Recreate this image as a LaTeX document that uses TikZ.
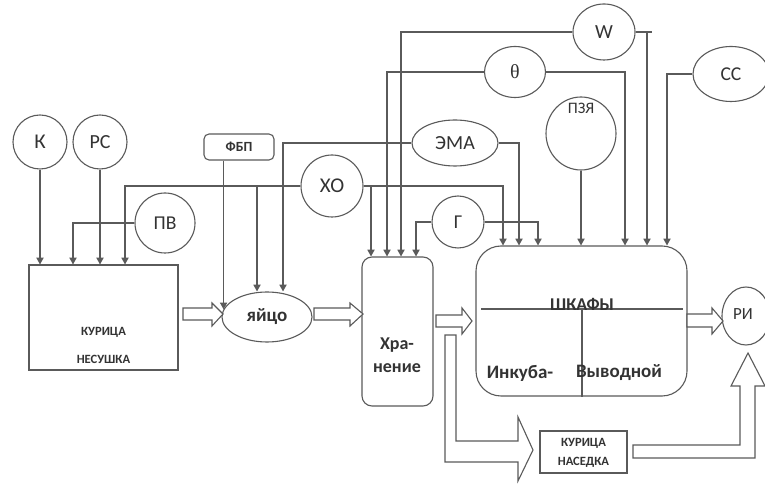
\documentclass[tikz,border=0pt]{standalone}
\usepackage{fontspec}
\setmainfont{Carlito}
\newfontfamily\thetafont{Liberation Serif}
\usetikzlibrary{shapes.geometric,arrows.meta}
\definecolor{lc}{HTML}{5A5A5A}
\definecolor{tc}{HTML}{333333}
\newcommand{\fsz}[1]{\fontsize{#1}{#1}\selectfont}
\begin{document}
\begin{tikzpicture}[x=0.5pt,y=-0.5pt,
  ln/.style={draw=lc,line width=0.55pt},
  arr/.style={ln,-{Triangle[width=3.6pt,length=3.4pt]}},
  circ/.style={circle,draw=lc,line width=0.55pt,inner sep=0pt,text=tc,font=\fsz{9.8}},
  ell/.style={ellipse,draw=lc,line width=0.55pt,inner sep=0pt,text=tc,font=\fsz{9.8}},
  box/.style={rectangle,draw=lc,line width=0.55pt,inner sep=0pt},
  blk/.style={draw=lc,line width=0.55pt,fill=white},
  smallbold/.style={text=tc,font=\bfseries\fsz{6.3},inner sep=0pt},
  bold/.style={text=tc,font=\bfseries\fsz{9},inner sep=0pt},
  plain/.style={text=tc,inner sep=0pt}
]
\fill[white] (0,0) rectangle (765,485);
\useasboundingbox (0,0) rectangle (765,485);
\clip (0,0) rectangle (765,485);

% nodes
\node[circ,minimum size=27pt,font=\fsz{10.5}] (K) at (40,142) {К};
\node[circ,minimum size=27pt,font=\fsz{10}] (RS) at (100,142) {РС};
\node[circ,minimum size=30pt] (PV) at (165,223) {ПВ};
\node[box,minimum width=74.5pt,minimum height=52.5pt] (hen) at (103.5,317.5) {};
\node[smallbold] (henA) at (103.5,332) {КУРИЦА};
\node[smallbold] (henB) at (103.5,359) {НЕСУШКА};
\node[box,rounded corners=2.5pt,minimum width=35pt,minimum height=13pt,text=tc,font=\bfseries\fsz{7}] (fbp) at (239,147) {ФБП};
\node[circ,minimum size=31pt,font=\fsz{10.5}] (XO) at (332,186) {ХО};
\node[ell,minimum width=45pt,minimum height=25pt,font=\bfseries\fsz{9.5}] (egg) at (267,317) {яйцо};
\node[ell,minimum width=43pt,minimum height=23pt,font=\fsz{10}] (EMA) at (455,143) {ЭМА};
\node[ell,minimum width=30.5pt,minimum height=25.5pt,font=\thetafont\fsz{10}] (TH) at (515,72) {θ};
\node[ell,minimum width=31pt,minimum height=28pt,font=\fsz{10}] (W) at (604,32) {W};
\node[ell,minimum width=38pt,minimum height=27.5pt] (CC) at (731,74) {СС};
\node[ell,minimum width=35pt,minimum height=36.5pt] (PZ) at (581,133.5) {};
\node[plain,font=\fsz{8}] (PZt) at (581,108) {ПЗЯ};
\node[circ,minimum size=26pt] (G) at (458,222) {Г};
\node[box,rounded corners=5pt,minimum width=35.5pt,minimum height=74.5pt] (store) at (397.5,331.5) {};
\node[bold] (storeA) at (397,345) {Хра-};
\node[bold] (storeB) at (397,368) {нение};
\node[box,rounded corners=12.5pt,minimum width=105.5pt,minimum height=75pt] (cab) at (581.5,321) {};
\draw[ln] (481,309) -- (683,309);
\draw[ln] (582,309) -- (582,309 |- cab.south);
\node[bold] (cabT) at (582,304) {ШКАФЫ};
\node[bold,font=\bfseries\fsz{9.5}] (cabL) at (520,373) {Инкуба-};
\node[bold,font=\bfseries\fsz{9.5}] (cabR) at (619,373) {Выводной};
\node[ell,minimum width=24pt,minimum height=29pt] (RI) at (746,316) {};
\node[plain,font=\fsz{8.5}] (RIt) at (743,314) {РИ};
\node[box,minimum width=43.5pt,minimum height=21pt] (brood) at (583.5,452) {};
\node[smallbold] (broodA) at (583.5,443) {КУРИЦА};
\node[smallbold] (broodB) at (583.5,462) {НАСЕДКА};

% block arrows
\draw[blk] (183,308) -- (212,308) -- (212,303) -- (223,314) -- (212,326) -- (212,320) -- (183,320) -- cycle;
\draw[blk] (314,308) -- (350,308) -- (350,303) -- (363,314) -- (350,326) -- (350,320) -- (314,320) -- cycle;
\draw[blk] (436,315) -- (462,315) -- (462,308) -- (472,321) -- (462,334) -- (462,327) -- (436,327) -- cycle;
\draw[blk] (687,314) -- (712,314) -- (712,308) -- (723,321) -- (712,334) -- (712,327) -- (687,327) -- cycle;
\draw[blk] (445,335) -- (456,335) -- (456,441) -- (518,441) -- (518,417) -- (533,450) -- (518,481) -- (518,462) -- (445,462) -- cycle;
\draw[blk] (633,445) -- (740,445) -- (740,386) -- (731,386) -- (748,353) -- (765,386) -- (755,386) -- (755,458) -- (633,458) -- cycle;

% connectors to hen
\draw[arr] (K) -- (K |- hen.north);
\draw[arr] (RS) -- (RS |- hen.north);
\draw[arr] (PV) -| (hen.north -| 73,0);
\draw[arr] (XO) -| (hen.north -| 125,0);
% connectors to egg
\draw[arr] (XO.west -| 257,0) -- (egg.north -| 257,0);
\draw[arr] (fbp.south -| egg.170) -- (egg.170);
\draw[arr] (EMA) -| (egg.north -| 283,0);
% connectors to store
\draw[arr] (XO.east -| 371,0) -- (store.north -| 371,0);
\draw[arr] (TH) -| (store.north -| 387,0);
\draw[arr] (W) -| (store.north -| 401,0);
\draw[arr] (G) -| (store.north -| 416,0);
% connectors to cab
\draw[arr] (XO) -| (cab.north -| 503,0);
\draw[arr] (EMA) -| (cab.north -| 519,0);
\draw[arr] (G) -| (cab.north -| 538,0);
\draw[arr] (PZ) -- (PZ |- cab.north);
\draw[arr] (TH) -| (cab.north -| 625,0);
\draw[ln] (W.east) -- (W.east -| 652,0);
\draw[arr] (W.east -| 647,0) -- (cab.north -| 647,0);
\draw[arr] (CC) -| (cab.north -| 667,0);
\end{tikzpicture}
\end{document}
